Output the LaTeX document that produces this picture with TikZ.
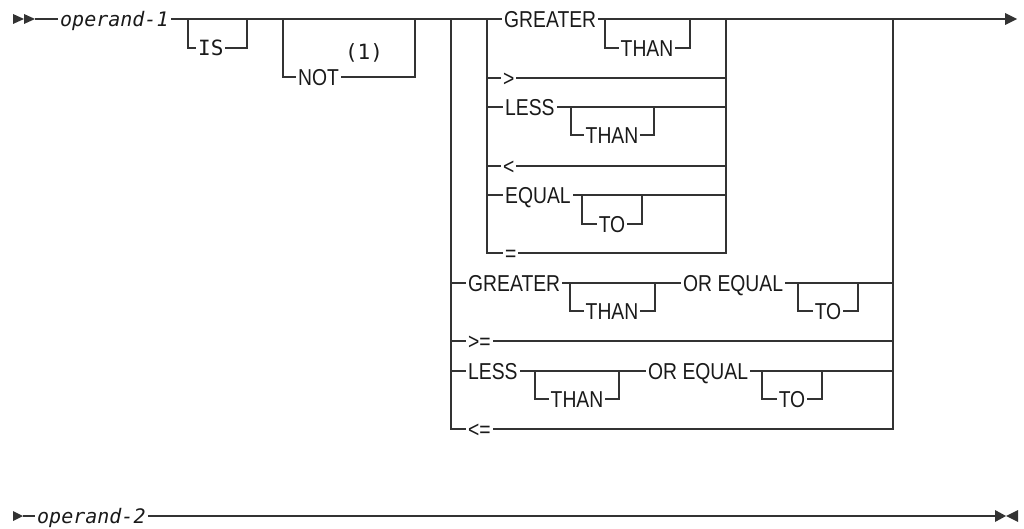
\documentclass[tikz,border=0pt]{standalone}
\usepackage{fontspec}
\usepackage{tikz}
\usetikzlibrary{calc}
\newfontfamily\kwfont[FakeStretch=0.84]{Liberation Sans}
\newfontfamily\monofont{DejaVu Sans Mono}
\definecolor{railGray}{HTML}{333333}
\definecolor{inkGray}{HTML}{1A1A1A}

\begin{document}
\begin{tikzpicture}[x=1pt, y=-1pt,
  rail/.style={draw=railGray, line width=1.2pt},
  kw/.style={font=\kwfont\fontsize{23}{24}\selectfont, text=inkGray,
             fill=white, anchor=west, inner xsep=2pt, inner ysep=0pt,
             text height=16.4pt, text depth=0pt},
  mono/.style={kw, font=\monofont\fontsize{21}{22}\selectfont,
               text height=15.3pt},
  var/.style={kw, font=\monofont\itshape\fontsize{20}{21}\selectfont,
              text height=14.6pt}
]
\useasboundingbox (0,0) rectangle (1024,529);

% first line
\fill[railGray] (13,14) -- (24,19) -- (13,24) -- cycle;
\fill[railGray] (24,14) -- (35,19) -- (24,24) -- cycle;
\draw[rail] (35,19) -- (1005,19);
\fill[railGray] (1005,13) -- (1017,19) -- (1005,25) -- cycle;

\draw[rail] (188,19) |- (247,48) -- (247,19);
\draw[rail] (283,19) |- (415,77) -- (415,19);

% outer choice block
\draw[rail] (451,19) -- (451,429) -- (893,429) -- (893,19);
\foreach \y in {283,341,371}
  \draw[rail] (451,\y) -- (893,\y);
\draw[rail] (570,283) |- (655,311) -- (655,283);
\draw[rail] (798,283) |- (858,311) -- (858,283);
\draw[rail] (535,371) |- (619,399) -- (619,371);
\draw[rail] (762,371) |- (822,399) -- (822,371);

% inner choice block
\draw[rail] (487,19) -- (487,253) -- (726,253) -- (726,19);
\foreach \y in {78,107,166,195}
  \draw[rail] (487,\y) -- (726,\y);
\draw[rail] (605,19) |- (690,48) -- (690,19);
\draw[rail] (571,107) |- (654,135) -- (654,107);
\draw[rail] (582,195) |- (642,224) -- (642,195);

% second line
\fill[railGray] (13,511) -- (23,516) -- (13,521) -- cycle;
\draw[rail] (23,516) -- (995,516);
\fill[railGray] (995,510) -- (1006,516) -- (995,522) -- cycle;
\fill[railGray] (1018,510) -- (1006,516) -- (1018,522) -- cycle;

% labels
\node[var] (op1) at (58,19) {operand-1};
\node[mono] (is) at (196,48) {IS};
\node[kw] (not) at (296,77) {NOT};
\node[mono, fill=none, anchor=center] (note) at (364,52) {(1)};

\node[kw] (gtA) at (502,19) {GREATER};
\node[kw, anchor=center] (thanA) at (647,48) {THAN};
\node[kw] (gtSym) at (501,78) {>};
\node[kw] (lsA) at (503,107) {LESS};
\node[kw, anchor=center] (thanB) at (612,135) {THAN};
\node[kw] (ltSym) at (501,166) {<};
\node[kw] (eqA) at (503,195) {EQUAL};
\node[kw, anchor=center] (toA) at (612,224) {TO};
\node[kw] (eqSym) at (503,253) {=};

\node[kw] (gtB) at (466,283) {GREATER};
\node[kw, anchor=center] (thanC) at (612,311) {THAN};
\node[kw] (orEqA) at (681,283) {OR~EQUAL};
\node[kw, anchor=center] (toB) at (828,311) {TO};
\node[kw] (geSym) at (466,341) {>=};
\node[kw] (lsB) at (466,371) {LESS};
\node[kw, anchor=center] (thanD) at (577,399) {THAN};
\node[kw] (orEqB) at (646,371) {OR~EQUAL};
\node[kw, anchor=center] (toC) at (792,399) {TO};
\node[kw] (leSym) at (466,429) {<=};

\node[var] (op2) at (35,516) {operand-2};
\end{tikzpicture}
\end{document}
